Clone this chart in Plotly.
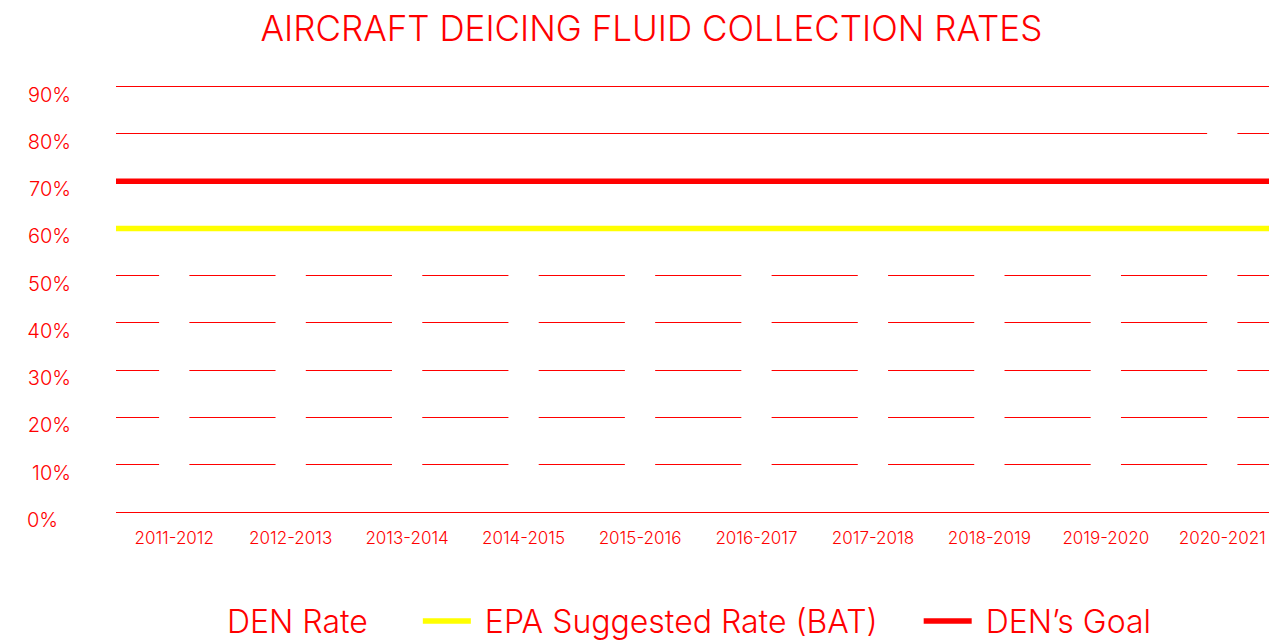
import plotly.graph_objects as go

seasons = ["2011-2012", "2012-2013", "2013-2014", "2014-2015", "2015-2016",
           "2016-2017", "2017-2018", "2018-2019", "2019-2020", "2020-2021"]
den_rate = [69, 72, 74, 71, 73, 76, 74, 71, 77, 84]
epa_rate = 60
den_goal = 70
line_span = [0, 1]
y_ticks = [0, 10, 20, 30, 40, 50, 60, 70, 80, 90]
y_ticktext = [("%d%%" % v) + ("\u2007" if v < 10 else "") for v in y_ticks]

RED = "#ff0000"
FONT = "Inter"
NB = "\u00a0"

fig = go.Figure()
fig.add_trace(go.Bar(
    x=seasons, y=den_rate, name=NB + "DEN Rate" + NB * 5,
    marker=dict(color="#ffffff", line=dict(width=0)),
    xaxis="x", yaxis="y",
))
fig.add_trace(go.Scatter(
    x=line_span, y=[epa_rate] * len(line_span),
    name=NB + "EPA Suggested Rate (BAT)" + NB * 4,
    mode="lines", line=dict(color="#ffff00", width=5.5),
    xaxis="x2", yaxis="y",
))
fig.add_trace(go.Scatter(
    x=line_span, y=[den_goal] * len(line_span), name=NB + "DEN\u2019s Goal",
    mode="lines", line=dict(color=RED, width=5.5),
    xaxis="x2", yaxis="y",
))

fig.update_layout(
    width=1269, height=634,
    margin=dict(l=108, r=0, t=74, b=130),
    paper_bgcolor="white", plot_bgcolor="white",
    font=dict(family=FONT, color=RED, weight=300),
    bargap=0.74,
    showlegend=True,
    title=dict(
        text="AIRCRAFT DEICING FLUID COLLECTION RATES",
        font=dict(family=FONT, size=35, color=RED, weight=300),
        x=0.507, xref="container", xanchor="center",
        y=0.968, yref="container", yanchor="middle",
    ),
    legend=dict(
        orientation="h",
        x=0.5122, xref="container", xanchor="center",
        y=0.033, yref="container", yanchor="middle",
        font=dict(family=FONT, size=32, color=RED, weight=300),
        bgcolor="rgba(0,0,0,0)",
        itemwidth=48,
    ),
    xaxis=dict(
        type="category",
        range=[-0.5, 9.47],
        showgrid=False, zeroline=False, showline=False,
        ticks="",
        tickfont=dict(family=FONT, size=17, color=RED, weight=300),
        ticklabelstandoff=14,
        automargin=False,
        fixedrange=True,
    ),
    xaxis2=dict(
        overlaying="x", range=[0, 1], visible=False, fixedrange=True,
    ),
    yaxis=dict(
        range=[0, 91],
        tickmode="array", tickvals=y_ticks, ticktext=y_ticktext,
        showgrid=True, gridcolor=RED, gridwidth=1,
        zeroline=True, zerolinecolor=RED, zerolinewidth=1,
        showline=False, ticks="",
        tickfont=dict(family=FONT, size=20, color=RED, weight=300),
        ticklabelstandoff=44,
        ticklabelshift=8,
        automargin=False,
        fixedrange=True,
    ),
)

fig.write_html("out.html")
